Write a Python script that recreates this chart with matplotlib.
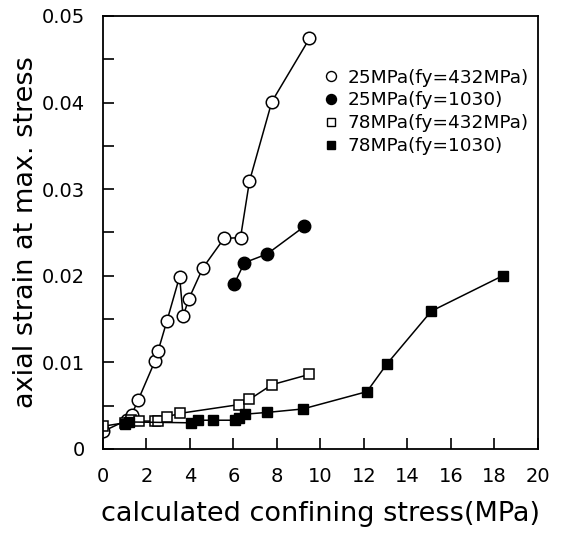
import matplotlib
matplotlib.use('Agg')
from matplotlib import pyplot as plt

# 25MPa (fy=432MPa) - open circles
x_25_432 = [0.0, 1.1, 1.32, 1.62, 2.39, 2.54, 2.95, 3.53, 3.69, 3.95, 4.6, 5.57, 6.33, 6.74, 7.77, 9.5]
y_25_432 = [0.0020, 0.0033, 0.0039, 0.0056, 0.0101, 0.0113, 0.0148, 0.0199, 0.0153, 0.0173, 0.0209,
            0.0243, 0.0244, 0.0309, 0.0401, 0.0474]

# 25MPa (fy=1030) - filled circles
x_25_1030 = [6.03, 6.51, 7.55, 9.27]
y_25_1030 = [0.0190, 0.0215, 0.0225, 0.0257]

# 78MPa (fy=432MPa) - open squares
x_78_432 = [0.0, 1.0, 1.3, 1.67, 2.39, 2.55, 2.95, 3.56, 6.25, 6.74, 7.77, 9.5]
y_78_432 = [0.0026, 0.0030, 0.0033, 0.0032, 0.0032, 0.0032, 0.0037, 0.0041, 0.0051, 0.0057, 0.0074, 0.0086]

# 78MPa (fy=1030) - filled squares
x_78_1030 = [1.0, 1.2, 4.07, 4.37, 5.06, 6.06, 6.28, 6.54, 7.55, 9.19, 12.14, 13.06, 15.1, 18.39]
y_78_1030 = [0.0029, 0.0031, 0.0030, 0.0033, 0.0033, 0.0033, 0.0036, 0.0040, 0.0042, 0.0046,
             0.0066, 0.0098, 0.0159, 0.0200]

labels = ['25MPa(fy=432MPa)', '25MPa(fy=1030)', '78MPa(fy=432MPa)', '78MPa(fy=1030)']

plt.rcParams['font.family'] = ['DejaVu Sans']

fig = plt.figure(figsize=(5.65, 5.33), dpi=100)
ax = fig.add_axes([0.182, 0.158, 0.770, 0.812])

lw = 1.1
ax.plot(x_25_432, y_25_432, '-o', color='black', mfc='white', mec='black', ms=9, lw=lw, mew=1.1, label=labels[0])
ax.plot(x_25_1030, y_25_1030, '-o', color='black', mfc='black', ms=9, lw=lw, label=labels[1])
ax.plot(x_78_432, y_78_432, '-s', color='black', mfc='white', mec='black', ms=7, lw=lw, mew=1.1, label=labels[2])
ax.plot(x_78_1030, y_78_1030, '-s', color='black', mfc='black', ms=7, lw=lw, label=labels[3])

ax.set_xlim(0, 20)
ax.set_ylim(0, 0.05)
ax.set_xticks(range(0, 21, 2))
ax.set_yticks([0, 0.01, 0.02, 0.03, 0.04, 0.05])
ax.set_yticklabels(['0', '0.01', '0.02', '0.03', '0.04', '0.05'])
ax.set_yticks([0.005, 0.015, 0.025, 0.035, 0.045], minor=True)
ax.tick_params(axis='both', which='both', direction='in', top=False, right=False,
               labelsize=14, width=1.2)
ax.tick_params(axis='both', which='major', length=8, pad=13)
ax.tick_params(axis='y', which='minor', length=8)
for s in ax.spines.values():
    s.set_linewidth(1.3)

ax.set_xlabel('calculated confining stress(MPa)', fontsize=19.5, labelpad=11)
ax.set_ylabel('axial strain at max. stress', fontsize=19.5, labelpad=2)

leg = ax.legend(handles=[plt.Line2D([], [], ls='', marker=h.get_marker(), mfc=h.get_mfc(), mec='black', ms=h.get_ms() * 0.8)
                         for h in ax.get_lines()],
                labels=labels, loc='upper right', bbox_to_anchor=(1.0, 0.90), frameon=False,
                fontsize=13.3, handletextpad=0.4, handlelength=1.0, labelspacing=0.27, borderaxespad=0.1)

fig.savefig('out.png', dpi=100)
